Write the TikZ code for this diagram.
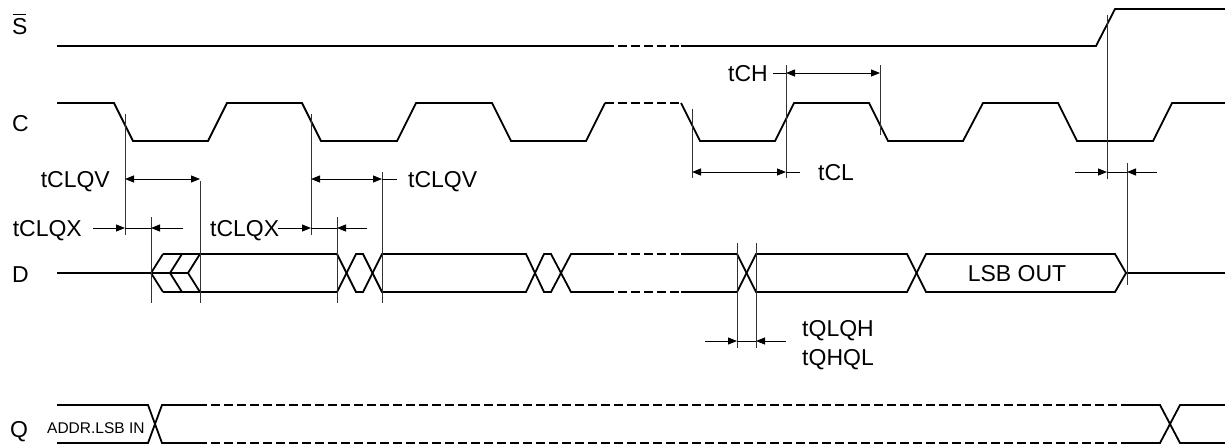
\documentclass[tikz,border=0pt]{standalone}
\usepackage{fontspec}
\setmainfont{Liberation Sans}
\usetikzlibrary{arrows.meta}
\begin{document}
\begin{tikzpicture}[x=1pt,y=-1pt,
  sig/.style={line width=1.8pt, line join=miter},
  dsig/.style={sig, dash pattern=on 9pt off 4pt},
  refl/.style={line width=0.9pt, black!80},
  dim/.style={line width=0.9pt},
  tip/.style={-{Triangle[length=9pt,width=7pt]}},
  both/.style={{Triangle[length=9pt,width=7pt]}-{Triangle[length=9pt,width=7pt]}},
  lbl/.style={font=\fontsize{23}{27}\selectfont, inner sep=0pt},
  small/.style={font=\fontsize{15.5}{18}\selectfont, inner sep=0pt}]
\useasboundingbox (0,0) rectangle (1225,447);
% signal names
\node[lbl, anchor=base west] (sname) at (12,34) {S};
\draw[line width=1pt] (12.5,14) -- (25.5,14);
\node[lbl, anchor=base west] (cname) at (12,131) {C};
\node[lbl, anchor=base west] (dname) at (12,282) {D};
\node[lbl, anchor=base west] (qname) at (10,437) {Q};
% S
\draw[sig] (57,46) -- (605,46);
\draw[dsig] (605,46) -- (681,46);
\draw[sig] (681,46) -- (1096,46) -- (1115,9) -- (1225,9);
% C
\draw[sig] (57,103) -- (114,103) -- (133,141) -- (208,141) -- (227,103) -- (302,103) -- (321,141) -- (397,141) -- (416,103) -- (492,103) -- (511,141) -- (586,141) -- (605,103);
\draw[dsig] (605,103) -- (681,103);
\draw[sig] (681,103) -- (700,141) -- (775,141) -- (794,103) -- (869,103) -- (888,141) -- (963,141) -- (983,103) -- (1058,103) -- (1077,141) -- (1153,141) -- (1172,103) -- (1225,103);
% D
\draw[sig] (57,273) -- (188,273);
\draw[sig] (163,254) -- (151,273) -- (163,292);
\draw[sig] (182,254) -- (170,273) -- (182,292);
\draw[sig] (200,254) -- (188,273) -- (200,292);
\draw[sig] (163,254) -- (337,254) -- (356,292) -- (363,292) -- (382,254) -- (526,254) -- (544,292) -- (551,292) -- (571,254) -- (605,254);
\draw[sig] (163,292) -- (337,292) -- (356,254) -- (363,254) -- (382,292) -- (526,292) -- (544,254) -- (551,254) -- (571,292) -- (605,292);
\draw[dsig] (605,254) -- (681,254);
\draw[dsig] (605,292) -- (681,292);
\draw[sig] (681,254) -- (737,254) -- (756,292) -- (907,292) -- (926,254) -- (1115,254) -- (1126,273) -- (1225,273);
\draw[sig] (681,292) -- (737,292) -- (756,254) -- (907,254) -- (926,292) -- (1115,292) -- (1126,273);
\node[lbl, anchor=base] (lsb) at (1017,281) {LSB OUT};
% Q
\draw[sig] (57,405) -- (148,405) -- (162,443) -- (198,443);
\draw[sig] (57,443) -- (148,443) -- (162,405) -- (198,405);
\draw[dsig] (198,405) -- (1123,405);
\draw[dsig] (198,443) -- (1123,443);
\draw[sig] (1123,405) -- (1160,405) -- (1180,443) -- (1225,443);
\draw[sig] (1123,443) -- (1160,443) -- (1180,405) -- (1225,405);
\node[small, anchor=base west] (addr) at (47,433) {ADDR.LSB IN};
% reference lines
\draw[refl] (125,114) -- (125,235);
\draw[refl] (151,217) -- (151,303);
\draw[refl] (200,181) -- (200,303);
\draw[refl] (311,114) -- (311,235);
\draw[refl] (337,217) -- (337,303);
\draw[refl] (382,172) -- (382,303);
\draw[refl] (692,109) -- (692,178);
\draw[refl] (786,65) -- (786,178);
\draw[refl] (880,65) -- (880,135);
\draw[refl] (1107,15) -- (1107,179);
\draw[refl] (1127,163) -- (1127,285);
\draw[refl] (737,243) -- (737,348);
\draw[refl] (756,243) -- (756,348);
% tCLQV 1
\draw[dim, both] (125,179) -- (200,179);
\node[lbl, anchor=base east] (tclqv1) at (110,187) {tCLQV};
% tCLQX 1
\draw[dim, tip] (93,228) -- (125,228);
\draw[dim] (125,228) -- (151,228);
\draw[dim, tip] (183,228) -- (151,228);
\node[lbl, anchor=base east] (tclqx1) at (82,236) {tCLQX};
% tCLQX 2
\node[lbl, anchor=base west] (tclqx2) at (210,236) {tCLQX};
\draw[dim, tip] (278,228) -- (311,228);
\draw[dim] (311,228) -- (337,228);
\draw[dim, tip] (367,228) -- (337,228);
% tCLQV 2
\draw[dim, both] (311,179) -- (382,179);
\draw[dim] (382,179) -- (397,179);
\node[lbl, anchor=base west] (tclqv2) at (408,187) {tCLQV};
% tCH
\node[lbl, anchor=base east] (tch) at (768,81) {tCH};
\draw[dim] (773,73) -- (786,73);
\draw[dim, both] (786,73) -- (880,73);
% tCL
\draw[dim, both] (692,172) -- (786,172);
\draw[dim] (786,172) -- (800,172);
\node[lbl, anchor=base west] (tcl) at (818,180) {tCL};
% right side
\draw[dim, tip] (1075,172) -- (1107,172);
\draw[dim] (1107,172) -- (1127,172);
\draw[dim, tip] (1157,172) -- (1127,172);
% tQLQH
\draw[dim, tip] (705,341) -- (737,341);
\draw[dim] (737,341) -- (756,341);
\draw[dim, tip] (786,341) -- (756,341);
\node[lbl, anchor=base west] (tqlqh) at (802,336) {tQLQH};
\node[lbl, anchor=base west] (tqhql) at (802,365) {tQHQL};
\end{tikzpicture}
\end{document}
